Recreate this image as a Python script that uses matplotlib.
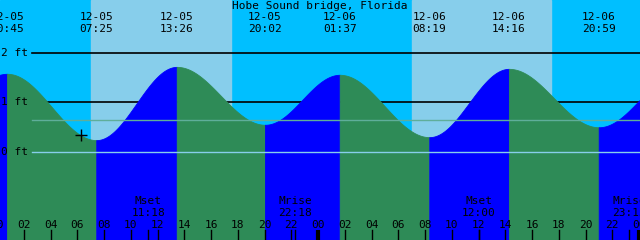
import matplotlib
matplotlib.use("Agg")
import matplotlib.pyplot as plt
import matplotlib.transforms as mtransforms
import numpy as np

# tide events (hours from 12-05 00:00, height in ft); first and last are off-chart
event_hours = [-5.2, 0.75, 7.417, 13.433, 20.033, 25.617, 32.317, 38.267, 44.983, 51.1]
event_heights = [0.6, 1.58, 0.24, 1.72, 0.55, 1.56, 0.30, 1.68, 0.50, 1.6]
event_labels = [None, ("12-05", "00:45"), ("12-05", "07:25"), ("12-05", "13:26"),
                ("12-05", "20:02"), ("12-06", "01:37"), ("12-06", "08:19"),
                ("12-06", "14:16"), ("12-06", "20:59"), None]

# daylight intervals (hours)
day_start = [7.02, 31.0]
day_end = [17.48, 41.4]

# moon events
moon_hours = [11.3, 22.3, 36.0, 47.25]
moon_names = ["Mset", "Mrise", "Mset", "Mrise"]
moon_times = ["11:18", "22:18", "12:00", "23:15"]

title = "Hobe Sound bridge, Florida"
now_hour = 6.25
now_height = 0.35
mean_level = 0.646

px_per_hour = 13.375
x0 = 0.22
x1 = x0 + 640 / px_per_hour
ft_px = 49.5
y_bottom = -(240 - 152) / ft_px
y_top = 152 / ft_px

NIGHT = "#00bfff"
DAY = "#87ceeb"
FALL = "#2e8b57"
RISE = "#0000ff"

fig = plt.figure(figsize=(6.4, 2.4), dpi=100)
ax = fig.add_axes([0, 0, 1, 1])
ax.set_xlim(x0, x1)
ax.set_ylim(y_bottom, y_top)
ax.axis("off")

ax.axvspan(x0, x1, color=NIGHT, zorder=0)
for s, e in zip(day_start, day_end):
    ax.axvspan(s, e, color=DAY, zorder=0.5)

line_start = x0 + 32 / px_per_hour
for lvl in [1, 2]:
    ax.plot([line_start, x1], [lvl, lvl], color="black", lw=1.2, zorder=1)

# tide curve, cosine between highs and lows
for i in range(len(event_hours) - 1):
    ta, tb = event_hours[i], event_hours[i + 1]
    ha, hb = event_heights[i], event_heights[i + 1]
    t = np.linspace(ta, tb, 120)
    h = ha + (hb - ha) * (1 - np.cos(np.pi * (t - ta) / (tb - ta))) / 2
    color = RISE if hb > ha else FALL
    ax.fill_between(t, y_bottom, h, facecolor=color, edgecolor=color, lw=0.6, zorder=2)

ax.plot([line_start, x1], [mean_level, mean_level], color="#5fae9a", lw=1, zorder=3)
ax.plot([line_start, x1], [0, 0], color="#87ceeb", lw=1, zorder=3)

ax.plot(now_hour, now_height, marker="+", color="black", ms=8, mew=1, zorder=4)

font = dict(family="DejaVu Sans Mono", fontsize=8, color="black")
top = mtransforms.blended_transform_factory(ax.transData, ax.transAxes)

ax.text(0.5, 1 - 6 / 240, title, transform=ax.transAxes, ha="center", va="center", **font)
for h, lab in zip(event_hours, event_labels):
    if lab is None:
        continue
    ax.text(h, 1 - 17 / 240, lab[0], transform=top, ha="center", va="center", **font)
    ax.text(h, 1 - 29 / 240, lab[1], transform=top, ha="center", va="center", **font)

for lvl in [0, 1, 2]:
    ax.text(x0 + 1 / px_per_hour, lvl, f"{lvl} ft", ha="left", va="center", zorder=5, **font)

# hour labels and ticks
hours = np.arange(0, 50, 2)
for hr in hours:
    if hr < x0 - 0.5 or hr > x1 + 0.5:
        continue
    ax.text(hr, 1 - 225 / 240, f"{hr % 24:02d}", transform=top, ha="center", va="center", zorder=5, **font)
    if hr % 24 == 0:
        ax.plot([hr, hr], [0, 10 / 240], transform=top, color="black", lw=3, solid_capstyle="butt", zorder=5)
    else:
        ax.plot([hr, hr], [0, 10 / 240], transform=top, color="black", lw=1, zorder=5)

for h, name, tm in zip(moon_hours, moon_names, moon_times):
    ax.text(h, 1 - 201 / 240, name, transform=top, ha="center", va="center", zorder=5, **font)
    ax.text(h, 1 - 213 / 240, tm, transform=top, ha="center", va="center", zorder=5, **font)
    ax.plot([h, h], [0, 10 / 240], transform=top, color="black", lw=1, zorder=5)

fig.savefig("out.png", dpi=100)
